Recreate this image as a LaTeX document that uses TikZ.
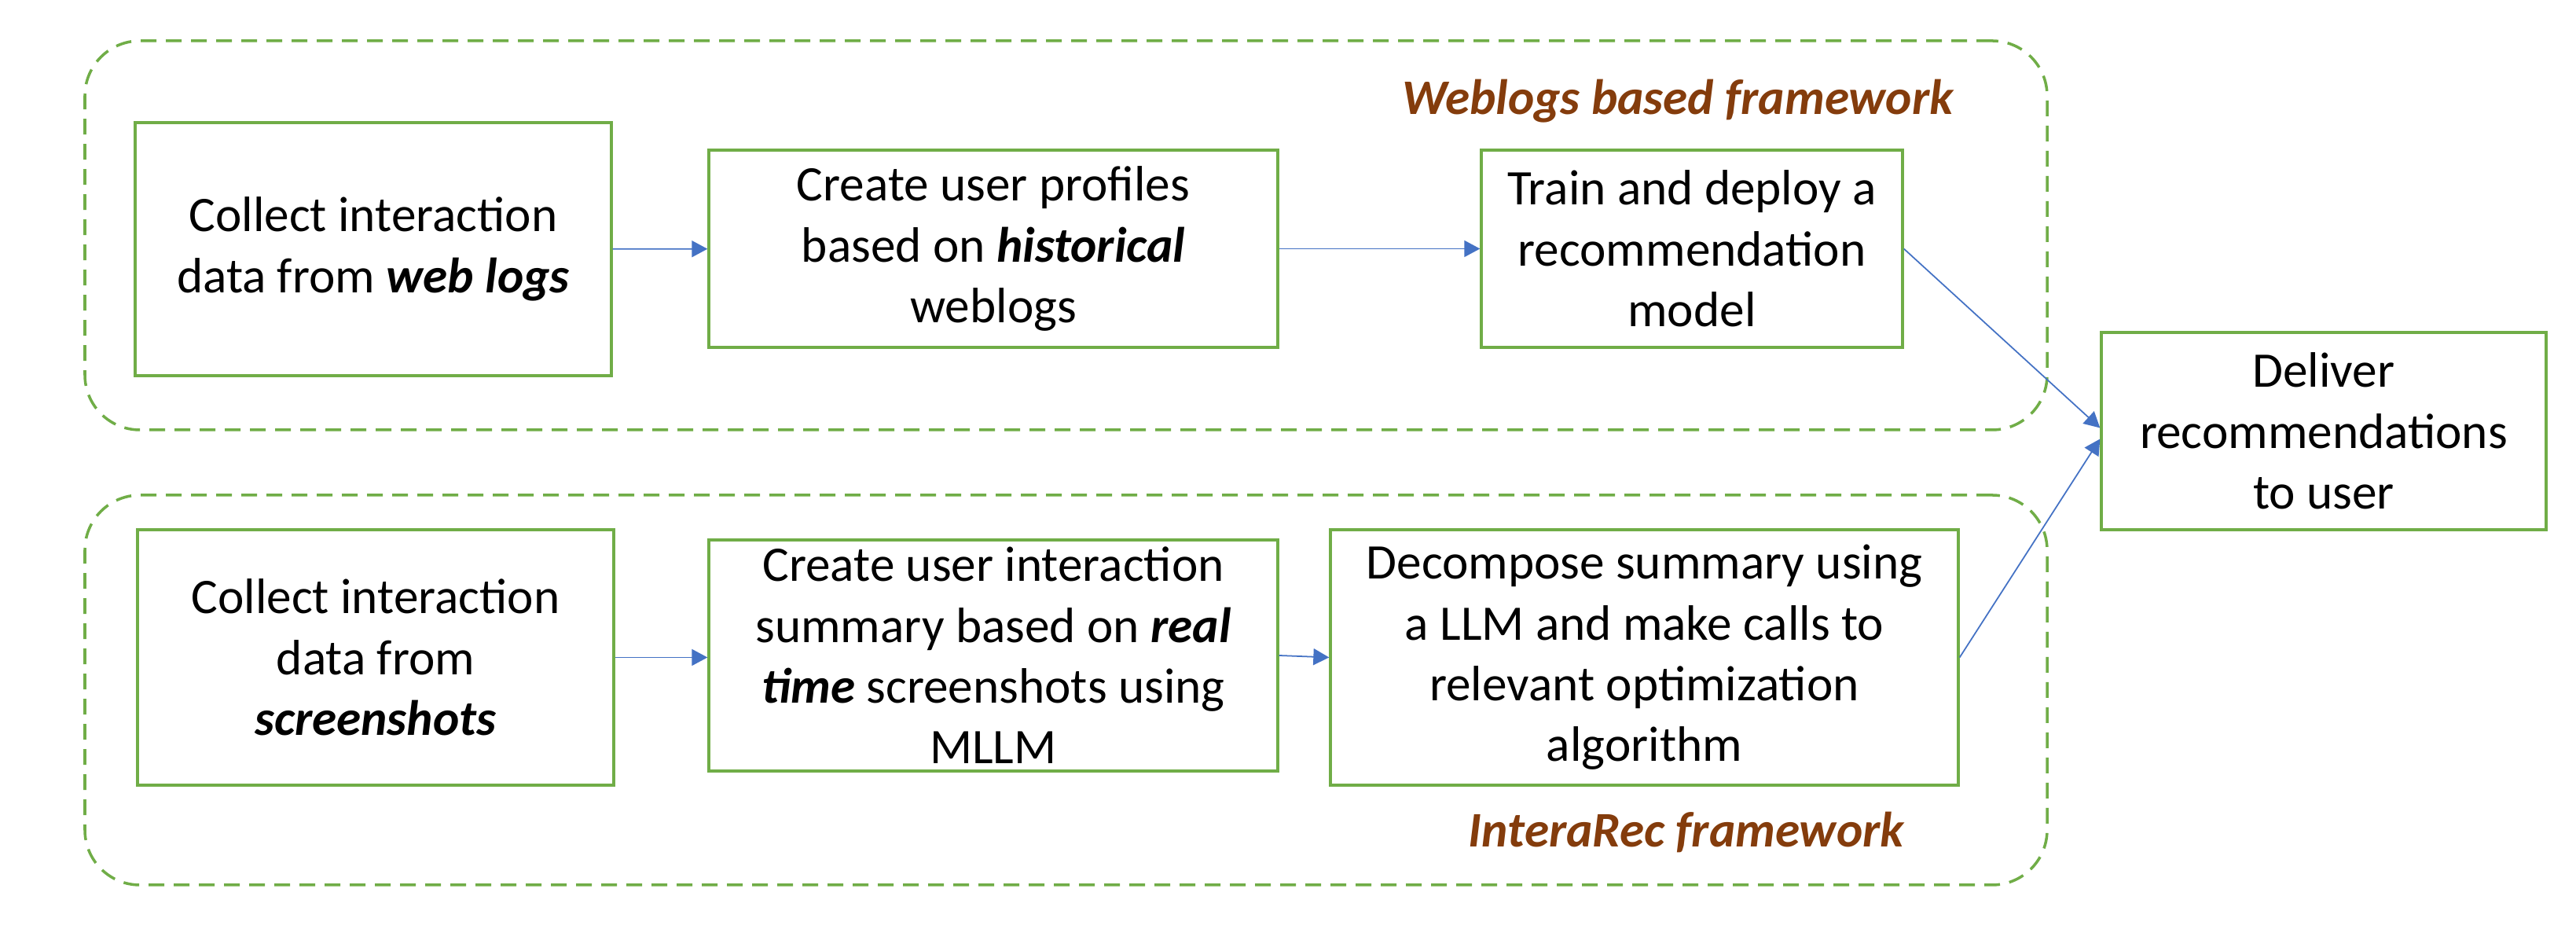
\documentclass[tikz,border=0pt]{standalone}
\usepackage{fontspec}
\setmainfont{Carlito}
\usetikzlibrary{positioning, arrows.meta}

\definecolor{boxgreen}{HTML}{70AD47}
\definecolor{linkblue}{HTML}{4472C4}
\definecolor{framebrown}{HTML}{843C0C}

\begin{document}
\begin{tikzpicture}[
    >={Triangle[length=2mm, width=2.1mm]},
    box/.style={
        draw=boxgreen, line width=0.95pt, inner sep=0pt,
        align=center, font=\fontsize{18}{22}\selectfont},
    link/.style={->, line width=0.5pt, linkblue},
    band/.style={draw=boxgreen, line width=1pt, dash pattern=on 2mm off 1.2mm,
                 rounded corners=7mm, inner sep=0pt},
    frame/.style={font=\fontsize{18}{22}\selectfont\bfseries\itshape, text=framebrown},
]
\useasboundingbox (0,0) rectangle (32.78,11.96);

% ============================ framework bands ===========================
\node[band, minimum width=24.97cm, minimum height=4.95cm] (webband) at (13.565,8.965) {};
\node[band, minimum width=24.97cm, minimum height=4.96cm] (recband) at (13.565,3.18) {};
\node[frame] (weblbl) at (21.35,10.67) {Weblogs based framework};
\node[frame] (reclbl) at (21.46,1.37) {InteraRec framework};

% ============================ weblogs pipeline ==========================
\node[box, minimum width=6.06cm, minimum height=3.22cm] (wcollect) at (4.75,8.79)
  {Collect interaction\\data from \textbf{\textit{web logs}}};
\node[box, minimum width=7.24cm, minimum height=2.51cm] (wprofile) at (12.64,8.795)
  {Create user profiles\\based on \textbf{\textit{historical}}\\weblogs};
\node[box, minimum width=5.36cm, minimum height=2.51cm] (wtrain) at (21.53,8.795)
  {Train and deploy a\\recommendation\\model};

% ============================ InteraRec pipeline ========================
\node[box, minimum width=6.06cm, minimum height=3.25cm] (scollect) at (4.78,3.595)
  {Collect interaction\\data from\\\textbf{\textit{screenshots}}};
\node[box, minimum width=7.24cm, minimum height=2.94cm] (ssummary) at (12.64,3.62)
  {Create user interaction\\summary based on \textbf{\textit{real}}\\\textbf{\textit{time}} screenshots using\\MLLM};
\node[box, minimum width=7.99cm, minimum height=3.25cm] (sdecomp) at (20.925,3.595)
  {Decompose summary using\\a LLM and make calls to\\relevant optimization\\algorithm};

% ============================ output ====================================
\node[box, minimum width=5.66cm, minimum height=2.51cm] (deliver) at (29.57,6.475)
  {Deliver\\recommendations\\to user};

% ============================ connectors ================================
\draw[link] (wcollect) -- (wprofile);
\draw[link] (wprofile) -- (wtrain);
\draw[link] (scollect.east) -- (scollect.east -| ssummary.west);
\draw[link] (ssummary.east) -- (sdecomp.west);
\draw[link] (wtrain.east) -- ([yshift=0.04cm]deliver.west);
\draw[link] (sdecomp.east) -- ([yshift=-0.1cm]deliver.west);

\end{tikzpicture}
\end{document}
